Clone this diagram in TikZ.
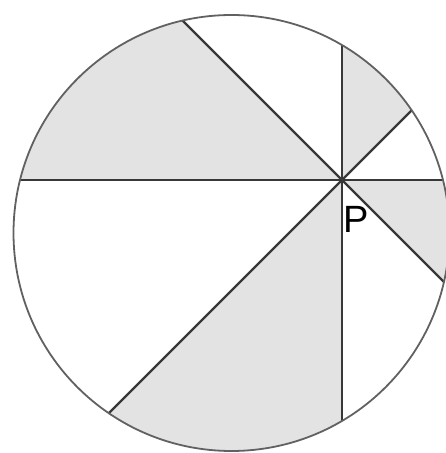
\documentclass[tikz,border=0pt]{standalone}
\usepackage{fontspec}
\setmainfont{Liberation Sans}
\tikzset{
  rim/.style={draw=black!62, line width=1.8pt},
  chord/.style={draw=black!78, line width=2.4pt},
  slice/.style={fill=black!11},
}
\begin{document}
\begin{tikzpicture}[x=1pt,y=1pt]
\useasboundingbox (0,0) rectangle (446,453);
\coordinate (O) at (231.5,220);
\coordinate (P) at (342,273);
% shaded slices and cuts, kept inside the disc
\begin{scope}
\clip (O) circle (218);
\foreach \a in {45,135,225,315}
  \fill[slice] (P) -- +(\a:600) -- +(\a+45:600) -- cycle;
\foreach \a in {0,45,90,135}
  \draw[chord] (P) +(\a:600) -- +(\a+180:600);
\end{scope}
\draw[rim] (O) circle (218);
\node[anchor=base west, inner sep=0pt, font=\fontsize{38}{38}\selectfont] (lblP) at (343,220) {P};
\end{tikzpicture}
\end{document}
